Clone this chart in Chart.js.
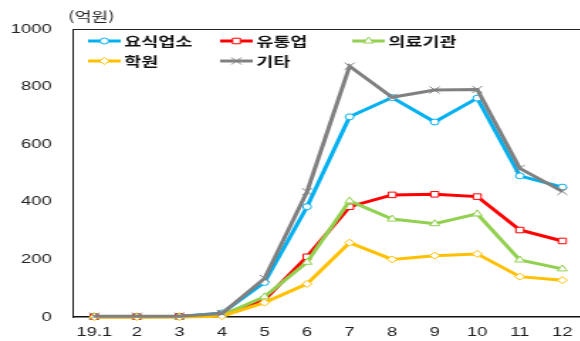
<!DOCTYPE html>
<html>
<head>
<meta charset="utf-8">
<script src="https://cdn.jsdelivr.net/npm/chart.js@4.4.1/dist/chart.umd.min.js"></script>
<style>
  html, body { margin: 0; padding: 0; background: #fff; overflow: hidden; }
  /* the reference is stretched sideways, so draw narrow and widen */
  #chart { position: absolute; left: 0; top: 0; width: 411px; height: 341px;
           transform: scaleX(1.42); transform-origin: 0 0; }
</style>
</head>
<body>
<canvas id="chart" width="411" height="341"></canvas>
<script>
const months = ['19.1', '2', '3', '4', '5', '6', '7', '8', '9', '10', '11', '12'];
const yTicks = [0, 200, 400, 600, 800, 1000];

const restaurants = [2, 2, 2, 14, 120, 383, 695, 762, 677, 760, 490, 451];
const retail = [1, 1, 2, 8, 60, 209, 383, 424, 426, 418, 302, 264];
const medical = [1, 1, 1, 6, 70, 190, 403, 340, 324, 358, 198, 167];
const academy = [0, 0, 0, 3, 50, 115, 258, 200, 213, 219, 140, 128];
const others = [3, 3, 3, 12, 134, 435, 871, 763, 788, 790, 516, 436];

const unitLabel = '(억원)';
const textColor = '#222';
const numFont = 'Liberation Sans, Arial, sans-serif';
const krFont = '"Noto Sans CJK KR", sans-serif';

function series(label, data, color, style, radius, order) {
    return {
        label: label,
        data: data,
        borderColor: color,
        backgroundColor: color,
        borderWidth: 3,
        tension: 0,
        pointStyle: style,
        pointRadius: radius,
        pointBorderWidth: 1,
        pointBorderColor: color,
        pointBackgroundColor: style === 'crossRot' ? color : '#fff',
        clip: false,
        order: order
    };
}

const datasets = [
    series('요식업소', restaurants, '#00B0F0', 'circle', 3, 5),
    series('유통업', retail, '#FF0000', 'rect', 3.9, 4),
    series('의료기관', medical, '#92D050', 'triangle', 4, 3),
    series('학원', academy, '#FFC000', 'rectRot', 3.5, 2),
    series('기타', others, '#808080', 'crossRot', 5, 1)
];

// legend rows drawn inside the plot, Excel-like
const legendSlots = [
    { x: 62, y: 41 }, { x: 155, y: 41 }, { x: 248, y: 41 },
    { x: 62, y: 61 }, { x: 155, y: 61 }
];

const frameAndLegend = {
    id: 'frameAndLegend',
    afterDraw(chart) {
        const ctx = chart.ctx;
        const area = chart.chartArea;
        ctx.save();
        // top edge of the plot box
        ctx.strokeStyle = '#222';
        ctx.lineWidth = 1;
        ctx.beginPath();
        ctx.moveTo(area.left, area.top + 0.5);
        ctx.lineTo(area.right, area.top + 0.5);
        ctx.stroke();

        // unit label
        ctx.fillStyle = textColor;
        ctx.font = '13px ' + krFont;
        ctx.textAlign = 'left';
        ctx.textBaseline = 'middle';
        ctx.fillText(unitLabel, 48, 16);

        chart.data.datasets.forEach((ds, i) => {
            const s = legendSlots[i];
            ctx.strokeStyle = ds.borderColor;
            ctx.lineWidth = 3;
            ctx.beginPath();
            ctx.moveTo(s.x, s.y);
            ctx.lineTo(s.x + 23, s.y);
            ctx.stroke();
            ctx.fillStyle = ds.pointBackgroundColor;
            ctx.strokeStyle = ds.borderColor;
            ctx.lineWidth = 1;
            Chart.helpers.drawPoint(ctx, {
                pointStyle: ds.pointStyle, radius: ds.pointRadius, rotation: 0, borderWidth: 1
            }, s.x + 11.5, s.y);
            ctx.fillStyle = '#111';
            ctx.font = 'bold 13px ' + krFont;
            ctx.textBaseline = 'middle';
            ctx.fillText(ds.label, s.x + 25.5, s.y + 0.5);
        });
        ctx.restore();
    }
};

new Chart(document.getElementById('chart'), {
    type: 'line',
    data: { labels: months, datasets: datasets },
    options: {
        responsive: false,
        animation: false,
        layout: { autoPadding: false, padding: { top: 29, right: 0, bottom: 0, left: 0 } },
        plugins: {
            legend: { display: false },
            tooltip: { enabled: false }
        },
        scales: {
            x: {
                offset: true,
                grid: { display: false, drawTicks: false },
                border: { display: true, color: '#111', width: 1.5 },
                ticks: { color: textColor, font: { family: numFont, size: 13 }, padding: 8,
                         maxRotation: 0, autoSkip: false },
                afterFit(scale) {
                    scale.height = 24;
                    scale.paddingLeft = 0;
                    scale.paddingRight = 0;
                }
            },
            y: {
                min: 0,
                max: 1000,
                grid: { display: false, drawTicks: false },
                border: { display: true, color: '#111', width: 1 },
                afterBuildTicks(scale) { scale.ticks = yTicks.map(v => ({ value: v })); },
                ticks: { color: textColor, font: { family: numFont, size: 13 }, padding: 15,
                         callback: v => String(v) },
                afterFit(scale) { scale.width = 51.4; }
            }
        }
    },
    plugins: [frameAndLegend]
});
</script>
</body>
</html>
